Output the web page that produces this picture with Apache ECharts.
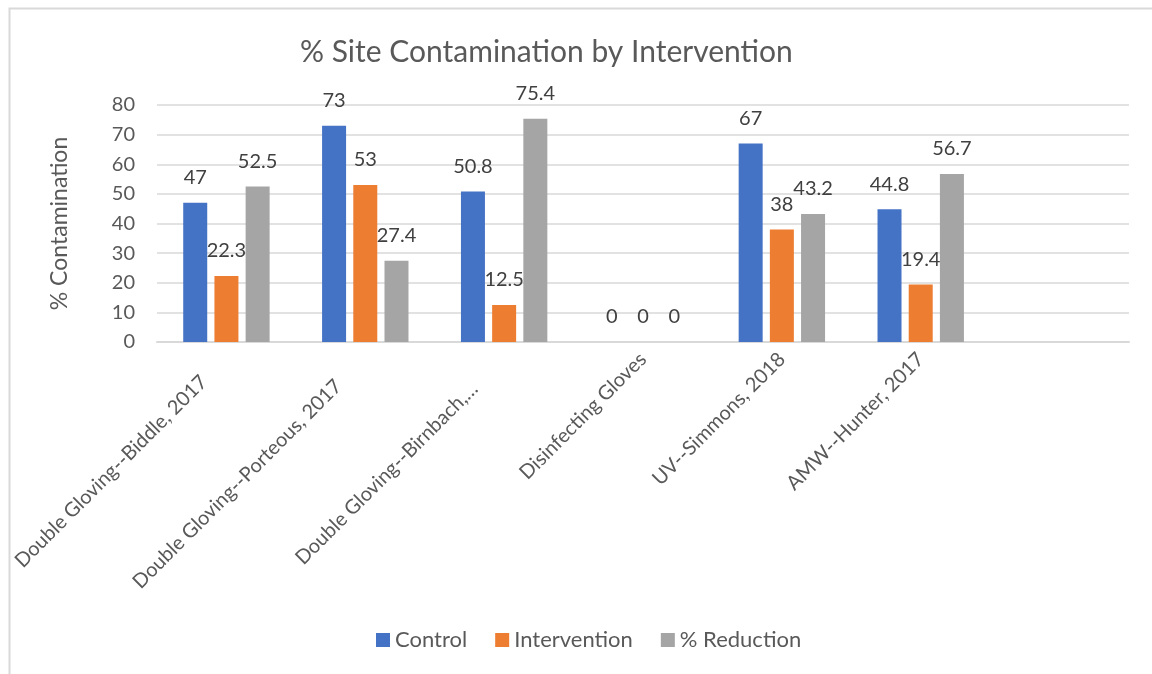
<!DOCTYPE html>
<html>
<head>
<meta charset="utf-8">
<script src="https://cdn.jsdelivr.net/npm/echarts@6/dist/echarts.min.js"></script>
<style>
  html, body { margin: 0; padding: 0; background: #fff; }
  #chart { width: 1152px; height: 674px; }
</style>
</head>
<body>
<div id="chart"></div>
<script>
// data
const categories = [
  'Double Gloving--Biddle, 2017',
  'Double Gloving--Porteous, 2017',
  'Double Gloving--Birnbach,…',
  'Disinfecting Gloves',
  'UV--Simmons, 2018',
  'AMW--Hunter, 2017',
  ''
]
const control = [47, 73, 50.8, 0, 67, 44.8]
const intervention = [22.3, 53, 12.5, 0, 38, 19.4]
const reduction = [52.5, 27.4, 75.4, 0, 43.2, 56.7]
const yTicks = [0, 10, 20, 30, 40, 50, 60, 70, 80]

const textColor = '#595959'
const font = 'Lato, "Open Sans", sans-serif'

// the long labels sit a bit further left in the original
const labelPadding = [
  [0, 32, 7, 0],
  [0, 38, 45, 0],
  [0, 42, 65, 0],
  0, 0, 0, 0
]

const chart = echarts.init(document.getElementById('chart'))

const makeSeries = (name, data, color) => ({
  name,
  type: 'bar',
  data,
  barWidth: 24,
  barGap: '30%',
  itemStyle: { color },
  label: {
    show: true,
    position: 'top',
    distance: 15,
    color: '#404040',
    fontSize: 20,
    fontFamily: font,
  },
})

const option = {
  animation: false,
  textStyle: { fontFamily: font },
  graphic: [
    {
      type: 'rect',
      left: 7,
      top: 6,
      shape: { width: 1200, height: 700 },
      style: { fill: 'none', stroke: '#D9D9D9', lineWidth: 2 },
      silent: true,
    },
  ],
  title: {
    text: '% Site Contamination by Intervention',
    left: 295,
    top: 32,
    textStyle: {
      color: textColor,
      fontSize: 30,
      fontWeight: 'normal',
      fontFamily: font,
    },
  },
  legend: {
    bottom: 18,
    left: 371,
    itemWidth: 14,
    itemHeight: 14,
    itemGap: 28,
    icon: 'rect',
    textStyle: { color: textColor, fontSize: 22, fontFamily: font },
    data: ['Control', 'Intervention', '% Reduction'],
  },
  grid: {
    left: 157,
    right: 23,
    top: 105,
    bottom: 332,
  },
  xAxis: {
    type: 'category',
    data: categories.map((c, i) => ({ value: c, textStyle: { padding: labelPadding[i] } })),
    axisLine: { lineStyle: { color: '#D9D9D9', width: 2 } },
    axisTick: { show: false },
    axisLabel: {
      rotate: 45,
      interval: 0,
      margin: 14,
      color: textColor,
      fontSize: 20,
      fontFamily: font,
    },
  },
  yAxis: {
    type: 'value',
    min: yTicks[0],
    max: yTicks[yTicks.length - 1],
    interval: 10,
    name: '% Contamination',
    nameLocation: 'middle',
    nameGap: 86,
    nameRotate: 90,
    nameTextStyle: { color: textColor, fontSize: 23, fontFamily: font },
    axisLine: { show: false },
    axisTick: { show: false },
    axisLabel: {
      margin: 22,
      color: textColor,
      fontSize: 20,
      fontFamily: font,
    },
    splitLine: { lineStyle: { color: '#D9D9D9', width: 1.5 } },
  },
  series: [
    makeSeries('Control', control, '#4472C4'),
    makeSeries('Intervention', intervention, '#ED7D31'),
    makeSeries('% Reduction', reduction, '#A5A5A5'),
  ],
}

chart.setOption(option)
</script>
</body>
</html>
